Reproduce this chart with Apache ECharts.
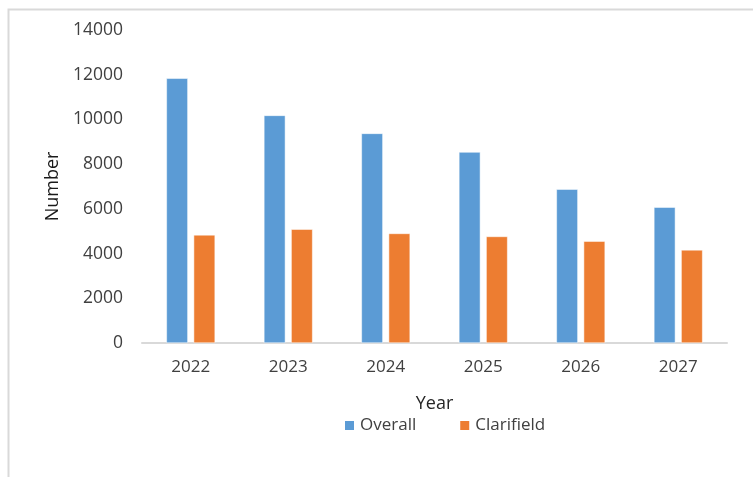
<!DOCTYPE html>
<html>
<head>
<meta charset="utf-8">
<script src="https://cdn.jsdelivr.net/npm/echarts@6/dist/echarts.min.js"></script>
<style>
html,body{margin:0;padding:0;background:#fff;}
#chart{width:753px;height:477px;}
</style>
</head>
<body>
<div id="chart"></div>
<script>
const years = ['2022','2023','2024','2025','2026','2027'];
const overall = [11840, 10180, 9375, 8540, 6880, 6075];
const clarifield = [4835, 5090, 4900, 4765, 4555, 4165];
const seriesNames = ['Overall','Clarifield'];
const yTicks = {min:0, max:14000, interval:2000};

const font = '"Open Sans", sans-serif';
const chart = echarts.init(document.getElementById('chart'));
chart.setOption({
  animation:false,
  backgroundColor:'#fff',
  graphic:[{
    type:'rect', shape:{x:8.5,y:9.5,width:800,height:600},
    style:{fill:'none',stroke:'#d9d9d9',lineWidth:2}, silent:true
  }],
  grid:{left:142,right:26,top:30,bottom:134},
  legend:{
    data:seriesNames, top:412, left:338,
    icon:'rect', itemWidth:11, itemHeight:11, itemGap:42,
    textStyle:{fontFamily:font,fontSize:17,color:'#404040'}
  },
  xAxis:{
    type:'category', data:years,
    name:'Year', nameLocation:'middle', nameGap:52,
    nameTextStyle:{fontFamily:font,fontSize:18,color:'#262626'},
    axisLine:{lineStyle:{color:'#d9d9d9',width:2}},
    axisTick:{show:false},
    axisLabel:{fontFamily:font,fontSize:17,color:'#404040',margin:16}
  },
  yAxis:{
    type:'value', min:yTicks.min, max:yTicks.max, interval:yTicks.interval,
    name:'Number', nameLocation:'middle', nameGap:80, nameRotate:90,
    nameTextStyle:{fontFamily:font,fontSize:18,color:'#1a1a1a'},
    axisLine:{show:false}, axisTick:{show:false}, splitLine:{show:false},
    axisLabel:{fontFamily:font,fontSize:17.5,color:'#404040',margin:19,
      formatter:function(v){return String(v);}}
  },
  series:[
    {name:seriesNames[0], type:'bar', data:overall, barWidth:'22%', barGap:'27%',
     itemStyle:{color:'#5B9BD5',borderColor:'#ffffff',borderWidth:0.5}},
    {name:seriesNames[1], type:'bar', data:clarifield, barWidth:'22%', barGap:'27%',
     itemStyle:{color:'#ED7D31',borderColor:'#ffffff',borderWidth:0.5}}
  ]
});
</script>
</body>
</html>
